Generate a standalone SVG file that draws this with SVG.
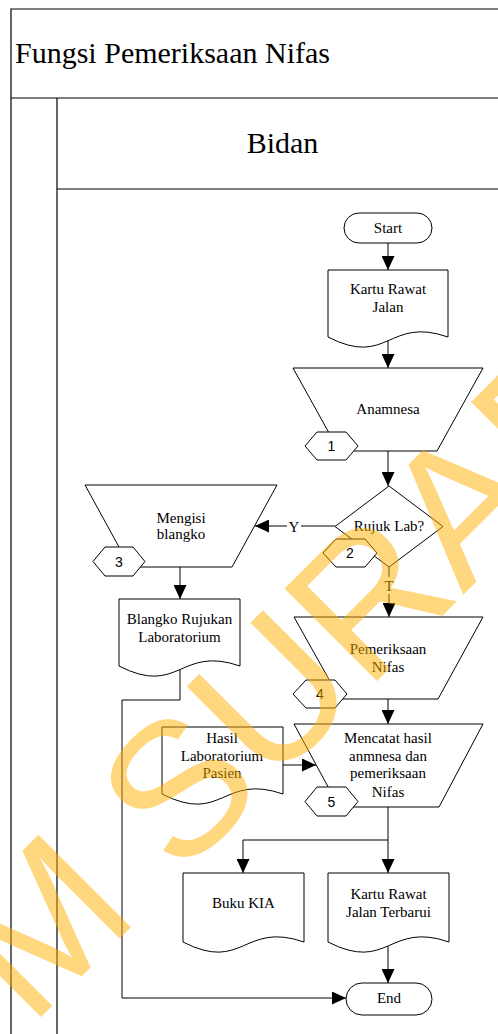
<svg xmlns="http://www.w3.org/2000/svg" width="498" height="1034" viewBox="0 0 498 1034">
  <defs>
    <style>
      .frame { stroke: #000; stroke-width: 1.2; fill: none; }
      .shape { stroke: #000; stroke-width: 1; fill: #fff; }
      .conn { stroke: #000; stroke-width: 1; fill: none; }
      .lbl { font-family: "Liberation Serif", "Times New Roman", serif; font-size: 15px; fill: #000; text-anchor: middle; }
      .num { font-family: "Liberation Sans", Arial, sans-serif; font-size: 14px; fill: #000; text-anchor: middle; }
      .head { font-family: "Liberation Serif", "Times New Roman", serif; font-size: 30px; fill: #000; }
      .mark { font-family: "Liberation Sans", Arial, sans-serif; font-size: 190px; fill: #FFB000; opacity: 0.5; }
    </style>
    <marker id="arrow" markerUnits="userSpaceOnUse" markerWidth="14" markerHeight="13" refX="14" refY="6.5" orient="auto">
      <path d="M0,0 L14,6.5 L0,13 Z" fill="#000"/>
    </marker>
  </defs>

  <rect width="498" height="1034" fill="#fff"/>

  <!-- swimlane frame -->
  <g id="frame">
    <path class="frame" d="M11,1034 V9 H498"/>
    <path class="frame" d="M11,98 H498"/>
    <path class="frame" d="M57,1034 V98"/>
    <path class="frame" d="M57,189 H498"/>
    <text class="head" x="15" y="63">Fungsi Pemeriksaan Nifas</text>
    <text class="head" x="282.5" y="153" text-anchor="middle">Bidan</text>
  </g>

  <!-- connectors -->
  <g id="connectors">
    <path class="conn" d="M388,243 V270" marker-end="url(#arrow)"/>
    <path class="conn" d="M388,338 V368" marker-end="url(#arrow)"/>
    <path class="conn" d="M388,451 V486" marker-end="url(#arrow)"/>
    <path class="conn" d="M335,526 H255" marker-end="url(#arrow)"/>
    <path class="conn" d="M389,567 V617" marker-end="url(#arrow)"/>
    <path class="conn" d="M180,567 V599" marker-end="url(#arrow)"/>
    <path class="conn" d="M180,668 V700 H122 V998 H346" marker-end="url(#arrow)"/>
    <path class="conn" d="M388,699 V724" marker-end="url(#arrow)"/>
    <path class="conn" d="M283,765 H316" marker-end="url(#arrow)"/>
    <path class="conn" d="M388,807 V873" marker-end="url(#arrow)"/>
    <path class="conn" d="M388,840 H243 V873" marker-end="url(#arrow)"/>
    <path class="conn" d="M388,946 V983" marker-end="url(#arrow)"/>
    <rect x="287" y="518" width="14" height="17" fill="#fff"/>
    <text class="lbl" x="294" y="532">Y</text>
    <rect x="382" y="577" width="14" height="17" fill="#fff"/>
    <text class="lbl" x="389" y="591">T</text>
  </g>

  <g id="start">
    <rect class="shape" x="344" y="213" width="88" height="30" rx="15"/>
    <text class="lbl" x="388" y="233">Start</text>
  </g>

  <g id="kartu-rawat-jalan">
    <path class="shape" d="M328,270 H448 V337 C388,316 388,368 328,337 Z"/>
    <text class="lbl" x="388" y="294">Kartu Rawat</text>
    <text class="lbl" x="388" y="311.5">Jalan</text>
  </g>

  <g id="anamnesa">
    <path class="shape" d="M293,368 H483 L437,451 H339 Z"/>
    <text class="lbl" x="388" y="414">Anamnesa</text>
    <polygon class="shape" points="305,446 317,432 346,432 358,446 346,460 317,460"/>
    <text class="num" x="331.5" y="451">1</text>
  </g>

  <g id="rujuk-lab">
    <path class="shape" d="M389,486 L443,526.5 L389,567 L335,526.5 Z"/>
    <text class="lbl" x="389" y="531">Rujuk Lab?</text>
    <polygon class="shape" points="323,553 336,539 365,539 377,553 365,567 336,567"/>
    <text class="num" x="350" y="558">2</text>
  </g>

  <g id="mengisi-blangko">
    <path class="shape" d="M85,485 H277 L232,567 H130 Z"/>
    <text class="lbl" x="181" y="523">Mengisi</text>
    <text class="lbl" x="181" y="539">blangko</text>
    <polygon class="shape" points="93,561.5 105,547 133,547 145,561.5 133,576 105,576"/>
    <text class="num" x="119" y="566.5">3</text>
  </g>

  <g id="blangko-rujukan">
    <path class="shape" d="M119,599 H240 V666 C179.5,645 179.5,697 119,666 Z"/>
    <text class="lbl" x="179.5" y="624">Blangko Rujukan</text>
    <text class="lbl" x="179.5" y="642">Laboratorium</text>
  </g>

  <g id="pemeriksaan-nifas">
    <path class="shape" d="M294,617 H483 L438,699 H340 Z"/>
    <text class="lbl" x="388" y="654">Pemeriksaan</text>
    <text class="lbl" x="388" y="672">Nifas</text>
    <polygon class="shape" points="293,694 306,680 335,680 347,694 335,708 306,708"/>
    <text class="num" x="320" y="699">4</text>
  </g>

  <g id="hasil-laboratorium">
    <path class="shape" d="M162,727 H283 V794 C222.5,773 222.5,825 162,794 Z"/>
    <text class="lbl" x="222" y="743">Hasil</text>
    <text class="lbl" x="222" y="761">Laboratorium</text>
    <text class="lbl" x="222" y="778">Pasien</text>
  </g>

  <g id="mencatat">
    <path class="shape" d="M294,724 H483 L439,807 H339 Z"/>
    <text class="lbl" x="388" y="743">Mencatat hasil</text>
    <text class="lbl" x="388" y="761">anmnesa dan</text>
    <text class="lbl" x="388" y="778">pemeriksaan</text>
    <text class="lbl" x="388" y="797">Nifas</text>
    <polygon class="shape" points="305,801.5 317,787 346,787 358,801.5 346,816 317,816"/>
    <text class="num" x="331.5" y="806.5">5</text>
  </g>

  <g id="buku-kia">
    <path class="shape" d="M183,873 H304 V942 C243.5,921 243.5,973 183,942 Z"/>
    <text class="lbl" x="243.5" y="908">Buku KIA</text>
  </g>

  <g id="kartu-terbarui">
    <path class="shape" d="M328,873 H449 V942 C388.5,921 388.5,973 328,942 Z"/>
    <text class="lbl" x="388.5" y="899">Kartu Rawat</text>
    <text class="lbl" x="388.5" y="917">Jalan Terbarui</text>
  </g>

  <g id="end">
    <rect class="shape" x="346" y="983" width="86" height="32" rx="16"/>
    <text class="lbl" x="389" y="1003">End</text>
  </g>

  <!-- watermark laid over the sheet -->
  <text class="mark" x="30" y="1028" transform="rotate(-45 30 1028)">M SURAB</text>
</svg>
